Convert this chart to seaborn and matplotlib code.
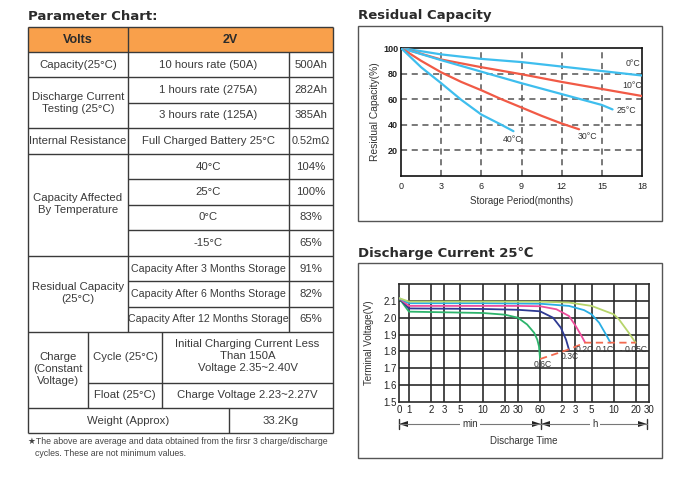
import numpy as np
import pandas as pd
import matplotlib
matplotlib.use("Agg")
import matplotlib.pyplot as plt
import seaborn as sns
from matplotlib.patches import Rectangle, Polygon

# ---------------- data ----------------
# Residual capacity chart (months, %)
rc_temps = ["0°C", "10°C", "25°C", "30°C", "40°C"]
rc_0_months = [0, 3, 6, 9, 12, 15, 18]
rc_0_cap = [100, 95, 91.5, 89, 85.5, 82, 78.5]
rc_10_months = [0, 3, 6, 9, 12, 15, 18]
rc_10_cap = [100, 91, 85, 79.5, 73.5, 68, 62.5]
rc_25_months = [0, 3, 6, 9, 12, 15, 15.8]
rc_25_cap = [100, 90.5, 81.5, 72.5, 64, 55.5, 52]
rc_30_months = [0, 1.5, 3, 4.5, 6, 7.5, 9, 10.5, 12, 13.3]
rc_30_cap = [100, 90, 81, 73.5, 67, 60, 53.5, 47, 41, 36.5]
rc_40_months = [0, 1.5, 3, 4.5, 6, 7.5, 8.4]
rc_40_cap = [100, 85, 72.5, 59.5, 48, 40, 35]
rc_xticks = [0, 3, 6, 9, 12, 15, 18]
rc_yticks = [20, 40, 60, 80, 100]

# Discharge curves (minutes, V)
dc_rates = ["0.6C", "0.3C", "0.2C", "0.1C", "0.05C"]
dc_06_t = [0, 1, 10, 20, 30, 40, 50, 55, 58, 60]
dc_06_v = [2.116, 2.036, 2.028, 2.018, 2.0, 1.96, 1.91, 1.87, 1.83, 1.755]
dc_03_t = [0, 1, 10, 30, 60, 90, 115, 135, 148]
dc_03_v = [2.116, 2.055, 2.052, 2.047, 2.038, 2.0, 1.94, 1.87, 1.81]
dc_02_t = [0, 1, 10, 30, 60, 100, 148, 183, 220, 244]
dc_02_v = [2.116, 2.07, 2.07, 2.07, 2.068, 2.05, 2.01, 1.95, 1.89, 1.854]
dc_01_t = [0, 1, 10, 60, 148, 237, 300, 380, 470, 540]
dc_01_v = [2.116, 2.086, 2.086, 2.083, 2.07, 2.045, 2.02, 1.97, 1.9, 1.852]
dc_005_t = [0, 1, 10, 60, 148, 300, 600, 705, 960, 1183]
dc_005_v = [2.116, 2.096, 2.096, 2.095, 2.09, 2.07, 2.02, 1.99, 1.91, 1.852]
dc_end_t = [60, 148, 244, 540, 1183]
dc_end_v = [1.755, 1.812, 1.852, 1.852, 1.852]
dc_xticks = [0, 1, 2, 3, 5, 10, 20, 30, 60, 120, 180, 300, 600, 1200, 1800]
dc_xlabels = ["0", "1", "2", "3", "5", "10", "20", "30", "60", "2", "3", "5", "10", "20", "30"]
dc_yticks = [1.5, 1.6, 1.7, 1.8, 1.9, 2.0, 2.1]

# Parameter table text
hdr_volts = "Volts"
hdr_value = "2V"
cap_label, cap_cond, cap_val = "Capacity(25°C)", "10 hours rate (50A)", "500Ah"
dis_label = "Discharge Current\nTesting (25°C)"
dis_conds = ["1 hours rate (275A)", "3 hours rate (125A)"]
dis_vals = ["282Ah", "385Ah"]
ir_label, ir_cond, ir_val = "Internal Resistance", "Full Charged Battery 25°C", "0.52mΩ"
temp_label = "Capacity Affected\nBy Temperature"
temp_conds = ["40°C", "25°C", "0°C", "-15°C"]
temp_vals = ["104%", "100%", "83%", "65%"]
res_label = "Residual Capacity\n(25°C)"
res_conds = ["Capacity After 3 Months Storage", "Capacity After 6 Months Storage",
             "Capacity After 12 Months Storage"]
res_vals = ["91%", "82%", "65%"]
chg_label = "Charge\n(Constant\nVoltage)"
chg_modes = ["Cycle (25°C)", "Float (25°C)"]
chg_vals = ["Initial Charging Current Less\nThan 150A\nVoltage 2.35~2.40V",
            "Charge Voltage 2.23~2.27V"]
wt_label, wt_val = "Weight (Approx)", "33.2Kg"
footnote = ["★The above are average and data obtained from the firsr 3 charge/discharge",
            "cycles. These are not minimum values."]

# ---------------- figure ----------------
sns.set_style("white")
plt.rcParams["font.family"] = ["Liberation Sans", "DejaVu Sans"]

W, H = 689, 482
fig = plt.figure(figsize=(W / 100, H / 100), dpi=100)
ax0 = fig.add_axes([0, 0, 1, 1], zorder=0)
ax0.set_xlim(0, W)
ax0.set_ylim(H, 0)
ax0.axis("off")


def frect(l, t, r, b):
    return [l / W, 1 - b / H, (r - l) / W, (b - t) / H]


TXT = "#3a3a3a"
LINE = "#3a3a3a"
FS = 8.2
title_kw = dict(fontsize=9.5, fontweight="bold", family=["DejaVu Sans"], color="#2b2b2b", va="center")

# ---------------- table ----------------
ax0.text(28, 16, "Parameter Chart:", **title_kw)
x0, x1, x2, x3 = 28, 128, 289, 333
xa, xb, xw = 88, 162, 229
ys = [27, 52, 77, 103, 128, 154, 179, 205, 230, 256, 281, 307, 332, 383, 408, 433]
ax0.add_patch(Rectangle((x0, ys[0]), x3 - x0, ys[1] - ys[0], facecolor="#F9A04B", edgecolor="none"))


def hl(y, a, b):
    ax0.plot([a, b], [y, y], color=LINE, lw=1.0, solid_capstyle="butt")


def vl(x, a, b):
    ax0.plot([x, x], [a, b], color=LINE, lw=1.0, solid_capstyle="butt")


for y in ys:
    if y in (103, 179, 205, 230, 281, 307):
        hl(y, x1, x3)
    elif y == 383:
        hl(y, xa, x3)
    else:
        hl(y, x0, x3)
vl(x0, ys[0], ys[-1]); vl(x3, ys[0], ys[-1])
vl(x1, ys[0], 332); vl(x2, 52, 332)
vl(xa, 332, 408); vl(xb, 332, 408); vl(xw, 408, 433)


def t(x, y, s, **kw):
    d = dict(fontsize=FS, color=TXT, ha="center", va="center", linespacing=1.25)
    d.update(kw)
    ax0.text(x, y, s, **d)


cx1, cx2, cx3 = (x0 + x1) / 2, (x1 + x2) / 2, (x2 + x3) / 2
t(cx1, 40, hdr_volts, fontweight="bold", fontsize=9, color="#2b2b2b")
t((x1 + x3) / 2, 40, hdr_value, fontweight="bold", fontsize=9, color="#2b2b2b")
t(cx1, 64.5, cap_label); t(cx2, 64.5, cap_cond); t(cx3, 64.5, cap_val)
t(cx1, 103, dis_label)
for k, yy in enumerate([90, 115.5]):
    t(cx2, yy, dis_conds[k]); t(cx3, yy, dis_vals[k])
t(cx1, 141, ir_label); t(cx2, 141, ir_cond); t(cx3, 141, ir_val, fontsize=7.8)
t(cx1, 204, temp_label)
for k, yy in enumerate([166.5, 192, 217.5, 243]):
    t(cx2, yy, temp_conds[k]); t(cx3, yy, temp_vals[k])
t(cx1, 293.5, res_label)
for k, yy in enumerate([268.5, 294, 319.5]):
    t(cx2, yy, res_conds[k], fontsize=7.7); t(cx3, yy, res_vals[k])
t((x0 + xa) / 2, 369.5, chg_label)
t((xa + xb) / 2, 357.5, chg_modes[0])
t((xb + x3) / 2, 356, chg_vals[0])
t((xa + xb) / 2, 395.5, chg_modes[1])
t((xb + x3) / 2, 395.5, chg_vals[1])
t((x0 + xw) / 2, 420.5, wt_label)
t((xw + x3) / 2, 420.5, wt_val)
ax0.text(28, 442, footnote[0], fontsize=6.3, color="#444444", va="center")
ax0.text(35, 453, footnote[1], fontsize=6.3, color="#444444", va="center")

# ---------------- residual capacity chart ----------------
ax0.text(358, 15, "Residual Capacity", **title_kw)
ax0.add_patch(Rectangle((358, 26), 304, 195, facecolor="none", edgecolor="#555555", lw=1.0))
ax1 = fig.add_axes(frect(401, 48, 642, 176), zorder=2)
ax1.patch.set_alpha(0)

rc_frames = []
for name, m, c in zip(rc_temps,
                      [rc_0_months, rc_10_months, rc_25_months, rc_30_months, rc_40_months],
                      [rc_0_cap, rc_10_cap, rc_25_cap, rc_30_cap, rc_40_cap]):
    rc_frames.append(pd.DataFrame({"months": m, "cap": c, "temp": name}))
rc_df = pd.concat(rc_frames, ignore_index=True)
CY, RD = "#3EBEEE", "#F15A46"
rc_pal = {"0°C": CY, "10°C": RD, "25°C": CY, "30°C": RD, "40°C": CY}
sns.lineplot(data=rc_df, x="months", y="cap", hue="temp", palette=rc_pal, legend=False,
             ax=ax1, lw=1.6, sort=False, zorder=3)
ax1.set_xlim(0, 18)
ax1.set_ylim(0, 100)
for gx in rc_xticks[1:-1]:
    ax1.axvline(gx, color="#555555", lw=1.1, ls=(0, (4, 3)), zorder=1)
for gy in rc_yticks[:-1]:
    ax1.axhline(gy, color="#555555", lw=1.1, ls=(0, (4, 3)), zorder=1)
ax1.set_xticks(rc_xticks)
ax1.set_yticks(rc_yticks)
ax1.tick_params(length=0, labelsize=6.5, colors="#222222")
ax1.tick_params(axis="x", pad=4)
ax1.tick_params(axis="y", pad=2)
for lab in ax1.get_yticklabels():
    lab.set_fontweight("bold")
for s in ax1.spines.values():
    s.set_color("#111111"); s.set_linewidth(1.2); s.set_visible(True)
ax1.set_xlabel("Storage Period(months)", fontsize=7, color="#333333")
ax1.set_ylabel("Residual Capacity(%)", fontsize=7.4, color="#333333")
ax1.xaxis.set_label_coords(0.5, -0.155)
ax1.yaxis.set_label_coords(-0.088, 0.5)
rc_lbl_pos = {"0°C": (17.3, 88), "10°C": (17.3, 71), "25°C": (16.8, 51.5),
              "30°C": (13.9, 30.5), "40°C": (8.3, 28.6)}
for name, (lx, ly) in rc_lbl_pos.items():
    ax1.text(lx, ly, name, fontsize=6.3, color="#333333", ha="center", va="center", zorder=4)

# ---------------- discharge chart ----------------
ax0.text(358, 253, "Discharge Current 25℃", **title_kw)
ax0.add_patch(Rectangle((358, 263), 304, 195, facecolor="none", edgecolor="#555555", lw=1.0))
ax2 = fig.add_axes(frect(399, 284, 649, 402), zorder=2)
ax2.patch.set_alpha(0)

K = 0.135


def fwd(x):
    x = np.asarray(x, dtype=float)
    return np.where(x >= 1, np.log10(np.maximum(x, 1)), (x - 1) * K)


def inv(u):
    u = np.asarray(u, dtype=float)
    return np.where(u >= 0, 10 ** np.maximum(u, 0), u / K + 1)


dc_frames = []
for name, tt, vv in zip(dc_rates, [dc_06_t, dc_03_t, dc_02_t, dc_01_t, dc_005_t],
                        [dc_06_v, dc_03_v, dc_02_v, dc_01_v, dc_005_v]):
    dc_frames.append(pd.DataFrame({"t": tt, "v": vv, "rate": name}))
dc_df = pd.concat(dc_frames, ignore_index=True)
dc_pal = {"0.6C": "#2DB46C", "0.3C": "#2E3A93", "0.2C": "#EE4E9C", "0.1C": "#29AEE4", "0.05C": "#B7D56B"}
ax2.set_xscale("function", functions=(fwd, inv))
sns.lineplot(data=dc_df, x="t", y="v", hue="rate", palette=dc_pal, legend=False, ax=ax2,
             lw=1.3, sort=False, zorder=3)
end_df = pd.DataFrame({"t": dc_end_t, "v": dc_end_v})
sns.lineplot(data=end_df, x="t", y="v", ax=ax2, color="#F26A50", lw=1.3, ls=(0, (4, 2.5)),
             sort=False, zorder=3)
ax2.set_xlim(0, 1800)
ax2.set_ylim(1.5, 2.2)
for gx in dc_xticks[1:-1]:
    ax2.axvline(gx, color="#2a2a2a", lw=1.2, zorder=1)
for gy in dc_yticks[1:]:
    ax2.axhline(gy, color="#2a2a2a", lw=1.2, zorder=1)
ax2.set_xticks(dc_xticks)
ax2.set_xticklabels(dc_xlabels)
ax2.xaxis.set_minor_locator(matplotlib.ticker.NullLocator())
ax2.set_yticks(dc_yticks)
ax2.set_yticklabels([f"{v:.1f}" for v in dc_yticks])
ax2.tick_params(length=0, labelsize=7, colors="#222222")
ax2.tick_params(axis="x", pad=2.5)
ax2.tick_params(axis="y", pad=1.5)
for s in ax2.spines.values():
    s.set_color("#2a2a2a"); s.set_linewidth(1.2); s.set_visible(True)
ax2.set_xlabel("Discharge Time", fontsize=7, color="#333333")
ax2.set_ylabel("Terminal Voltage(V)", fontsize=7, color="#333333")
ax2.xaxis.set_label_coords(0.5, -0.29)
ax2.yaxis.set_label_coords(-0.1, 0.5)
dc_lbl = [("0.6C", 66, 1.724), ("0.3C", 151, 1.77), ("0.2C", 240, 1.81),
          ("0.1C", 452, 1.81), ("0.05C", 1200, 1.81)]
for name, lx, ly in dc_lbl:
    ax2.text(lx, ly, name, fontsize=6.2, color="#333333", ha="center", va="center", zorder=4)
for sx in (328, 745):
    ax2.text(sx, 1.803, "-", fontsize=5, fontweight="bold", color="#333333", ha="center", va="center")

# min / h arrows
ya = 424
for bx in (399, 541, 647):
    ax0.plot([bx, bx], [ya - 5, ya + 5], color="#333333", lw=1.0)
ax0.plot([399, 647], [ya, ya], color="#777777", lw=0.8)
for tip, d in ((399, 1), (541, -1), (541, 1), (647, -1)):
    ax0.add_patch(Polygon([(tip, ya), (tip + 9 * d, ya - 3), (tip + 9 * d, ya + 3)],
                          closed=True, facecolor="#222222", edgecolor="none"))
ax0.text(470, ya, "min", fontsize=7, color="#333333", ha="center", va="center",
         bbox=dict(facecolor="white", edgecolor="none", pad=1.5))
ax0.text(595, ya, "h", fontsize=7, color="#333333", ha="center", va="center",
         bbox=dict(facecolor="white", edgecolor="none", pad=1.5))

fig.savefig("out.png", dpi=100)
